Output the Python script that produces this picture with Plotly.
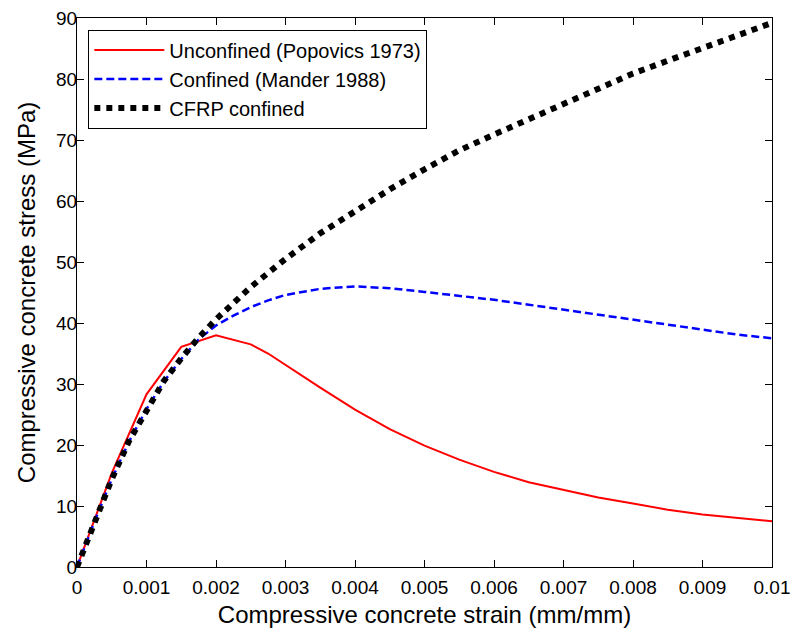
import plotly.graph_objects as go

# ---- data ----
strain_unconf = [0, 0.0005, 0.001, 0.0015, 0.002, 0.0025, 0.00275, 0.003, 0.00325, 0.0035,
                 0.00375, 0.004, 0.0045, 0.005, 0.0055, 0.006, 0.0065, 0.007, 0.0075,
                 0.008, 0.0085, 0.009, 0.0095, 0.01]
stress_unconf = [0, 15.4, 28.3, 36.1, 38.0, 36.5, 35.0, 33.1, 31.3, 29.4,
                 27.6, 25.8, 22.6, 19.9, 17.6, 15.6, 13.9, 12.6, 11.4,
                 10.4, 9.4, 8.6, 8.0, 7.5]

strain_mander = [0, 0.00025, 0.0005, 0.00075, 0.001, 0.00125, 0.0015, 0.00175, 0.002,
                 0.00225, 0.0025, 0.00275, 0.003, 0.0035, 0.004, 0.0045, 0.005, 0.0055,
                 0.006, 0.0065, 0.007, 0.0075, 0.008, 0.0085, 0.009, 0.0095, 0.01]
stress_mander = [0, 7.4, 14.4, 20.6, 25.9, 30.4, 34.1, 37.3, 39.6,
                 41.2, 42.6, 43.7, 44.6, 45.6, 46.0, 45.7, 45.1, 44.5,
                 43.8, 43.0, 42.2, 41.4, 40.5, 39.7, 38.9, 38.1, 37.5]

strain_cfrp = [0, 0.00025, 0.0005, 0.00075, 0.001, 0.00125, 0.0015, 0.00175, 0.002,
               0.00225, 0.0025, 0.00275, 0.003, 0.0035, 0.004, 0.0045, 0.005, 0.0055,
               0.006, 0.0065, 0.007, 0.0075, 0.008, 0.0085, 0.009, 0.0095, 0.01]
stress_cfrp = [0, 7.4, 14.4, 20.7, 25.8, 30.5, 34.2, 37.6, 40.6,
               43.4, 45.9, 48.2, 50.5, 54.7, 58.4, 61.9, 65.2, 68.3,
               70.9, 73.4, 75.9, 78.4, 80.9, 83.0, 85.0, 87.0, 89.2]

x_tickvals = [0, 0.001, 0.002, 0.003, 0.004, 0.005, 0.006, 0.007, 0.008, 0.009, 0.01]
x_ticktext = ["0", "0.001", "0.002", "0.003", "0.004", "0.005", "0.006", "0.007", "0.008", "0.009", "0.01"]
y_tickvals = [0, 10, 20, 30, 40, 50, 60, 70, 80, 90]

names = ["Unconfined (Popovics 1973)", "Confined (Mander 1988)", "CFRP confined"]

FONT = "Liberation Sans, Arial, sans-serif"

fig = go.Figure()
fig.add_trace(go.Scatter(x=strain_unconf, y=stress_unconf, mode="lines", name=names[0],
                         line=dict(color="#ff0000", width=2)))
fig.add_trace(go.Scatter(x=strain_mander, y=stress_mander, mode="lines", name=names[1],
                         line=dict(color="#0000ff", width=2.5, dash="8px,4px")))
fig.add_trace(go.Scatter(x=strain_cfrp, y=stress_cfrp, mode="lines", name=names[2],
                         line=dict(color="#000000", width=6, dash="6px,6px")))

axis_common = dict(
    showgrid=False, zeroline=False, showline=True, linecolor="black", linewidth=1,
    mirror="ticks", ticks="inside", ticklen=7, tickcolor="black", tickwidth=1,
    tickfont=dict(family=FONT, size=19, color="black"),
    ticklabeloverflow="allow",
)

fig.update_layout(
    width=790, height=628,
    margin=dict(l=77, r=18, t=18, b=61, autoexpand=False),
    paper_bgcolor="white", plot_bgcolor="white",
    font=dict(family=FONT, color="black"),
    xaxis=dict(range=[0, 0.01], tickvals=x_tickvals, ticktext=x_ticktext,
               ticklabelstandoff=3,
               title=dict(text="Compressive concrete strain (mm/mm)",
                          font=dict(family=FONT, size=24, color="black"), standoff=18),
               **axis_common),
    yaxis=dict(range=[0, 90], tickvals=y_tickvals,
               ticklabelstandoff=-5,
               title=dict(text="Compressive concrete stress (MPa)",
                          font=dict(family=FONT, size=24, color="black"), standoff=13),
               **axis_common),
    legend=dict(x=0.0163, y=0.979, xanchor="left", yanchor="top",
                bgcolor="white", bordercolor="black", borderwidth=1,
                font=dict(family=FONT, size=20, color="black"),
                itemwidth=70, tracegroupgap=0),
    showlegend=True,
)

fig.write_html(
    "out.html",
    config={"displayModeBar": False},
    post_script="document.body.style.margin='0';document.body.style.overflow='hidden';",
)
